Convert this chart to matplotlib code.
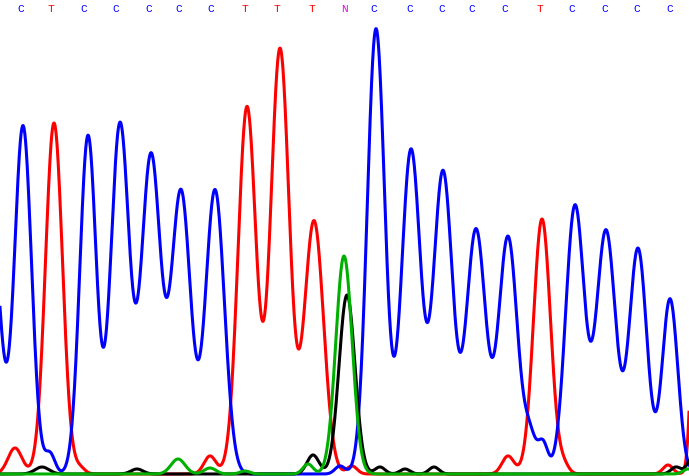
import numpy as np
import matplotlib
matplotlib.use("Agg")
import matplotlib.pyplot as plt

# base calls along the top
bases = list("CTCCCCCTTTNCCCCCTCCCC")
base_x = [21, 51, 84, 116, 149, 179, 211, 245, 277, 312, 344,
          374, 410, 442, 472, 505, 540, 572, 605, 637, 670]
base_colors = {"C": "#0000ff", "T": "#ff0000", "N": "#e000e0", "A": "#00b000", "G": "#000000"}

# peaks per channel: centre, height, width
c_pos = [-9, 23, 50, 88, 120, 151, 181, 215, 340, 376, 411, 443, 476, 508, 530, 543, 575, 606, 638, 670]
c_amp = [260, 348, 20, 338, 350, 318, 282, 284, 8, 445, 324, 302, 244, 237, 35, 30, 268, 243, 225, 175]
c_wid = [9, 8.5, 5, 8.2, 9.2, 9.6, 9.6, 9.4, 5, 8.7, 9.5, 9.5, 9.6, 9.4, 6, 5, 9.3, 9.6, 8.8, 7.8]

t_pos = [15, 54, 80, 210, 247, 280, 314, 352, 508, 542, 564, 668, 697]
t_amp = [26, 351, 6, 18, 367, 425, 253, 8, 18, 255, 8, 9, 300]
t_wid = [7, 8.5, 5, 6, 9, 9.2, 9.6, 5, 6, 8.5, 5, 5, 4.5]

g_pos = [42, 137, 313, 347, 380, 405, 434, 676, 692]
g_amp = [7, 5, 19, 179, 7, 5, 7, 7, 15]
g_wid = [7, 6, 6, 8, 5, 5, 5, 5, 5]

a_pos = [178, 210, 245, 308, 344, 688]
a_amp = [15, 6, 3, 10, 218, 5]
a_wid = [7, 6, 5, 5, 8.2, 5]

x = np.linspace(0, 689, 2000)


def trace(pos, amp, wid):
    y = np.zeros_like(x)
    for p, a, w in zip(pos, amp, wid):
        y += a * np.exp(-(x - p) ** 2 / (2 * w ** 2))
    return y


fig = plt.figure(figsize=(6.89, 4.77), dpi=100)
ax = fig.add_axes([0, 0, 1, 1])
lw = 2.2
ax.plot(x, trace(t_pos, t_amp, t_wid), color="#ff0000", lw=lw)
ax.plot(x, trace(c_pos, c_amp, c_wid), color="#0000ff", lw=lw)
ax.plot(x, trace(g_pos, g_amp, g_wid), color="#000000", lw=lw)
ax.plot(x, trace(a_pos, a_amp, a_wid), color="#00b000", lw=lw)

for b, bx in zip(bases, base_x):
    ax.text(bx, 466, b, color=base_colors[b], fontsize=8, family="Liberation Mono",
            ha="center", va="center")

ax.set_xlim(0, 689)
ax.set_ylim(-2, 475)
ax.axis("off")
fig.savefig("out.png", dpi=100)
